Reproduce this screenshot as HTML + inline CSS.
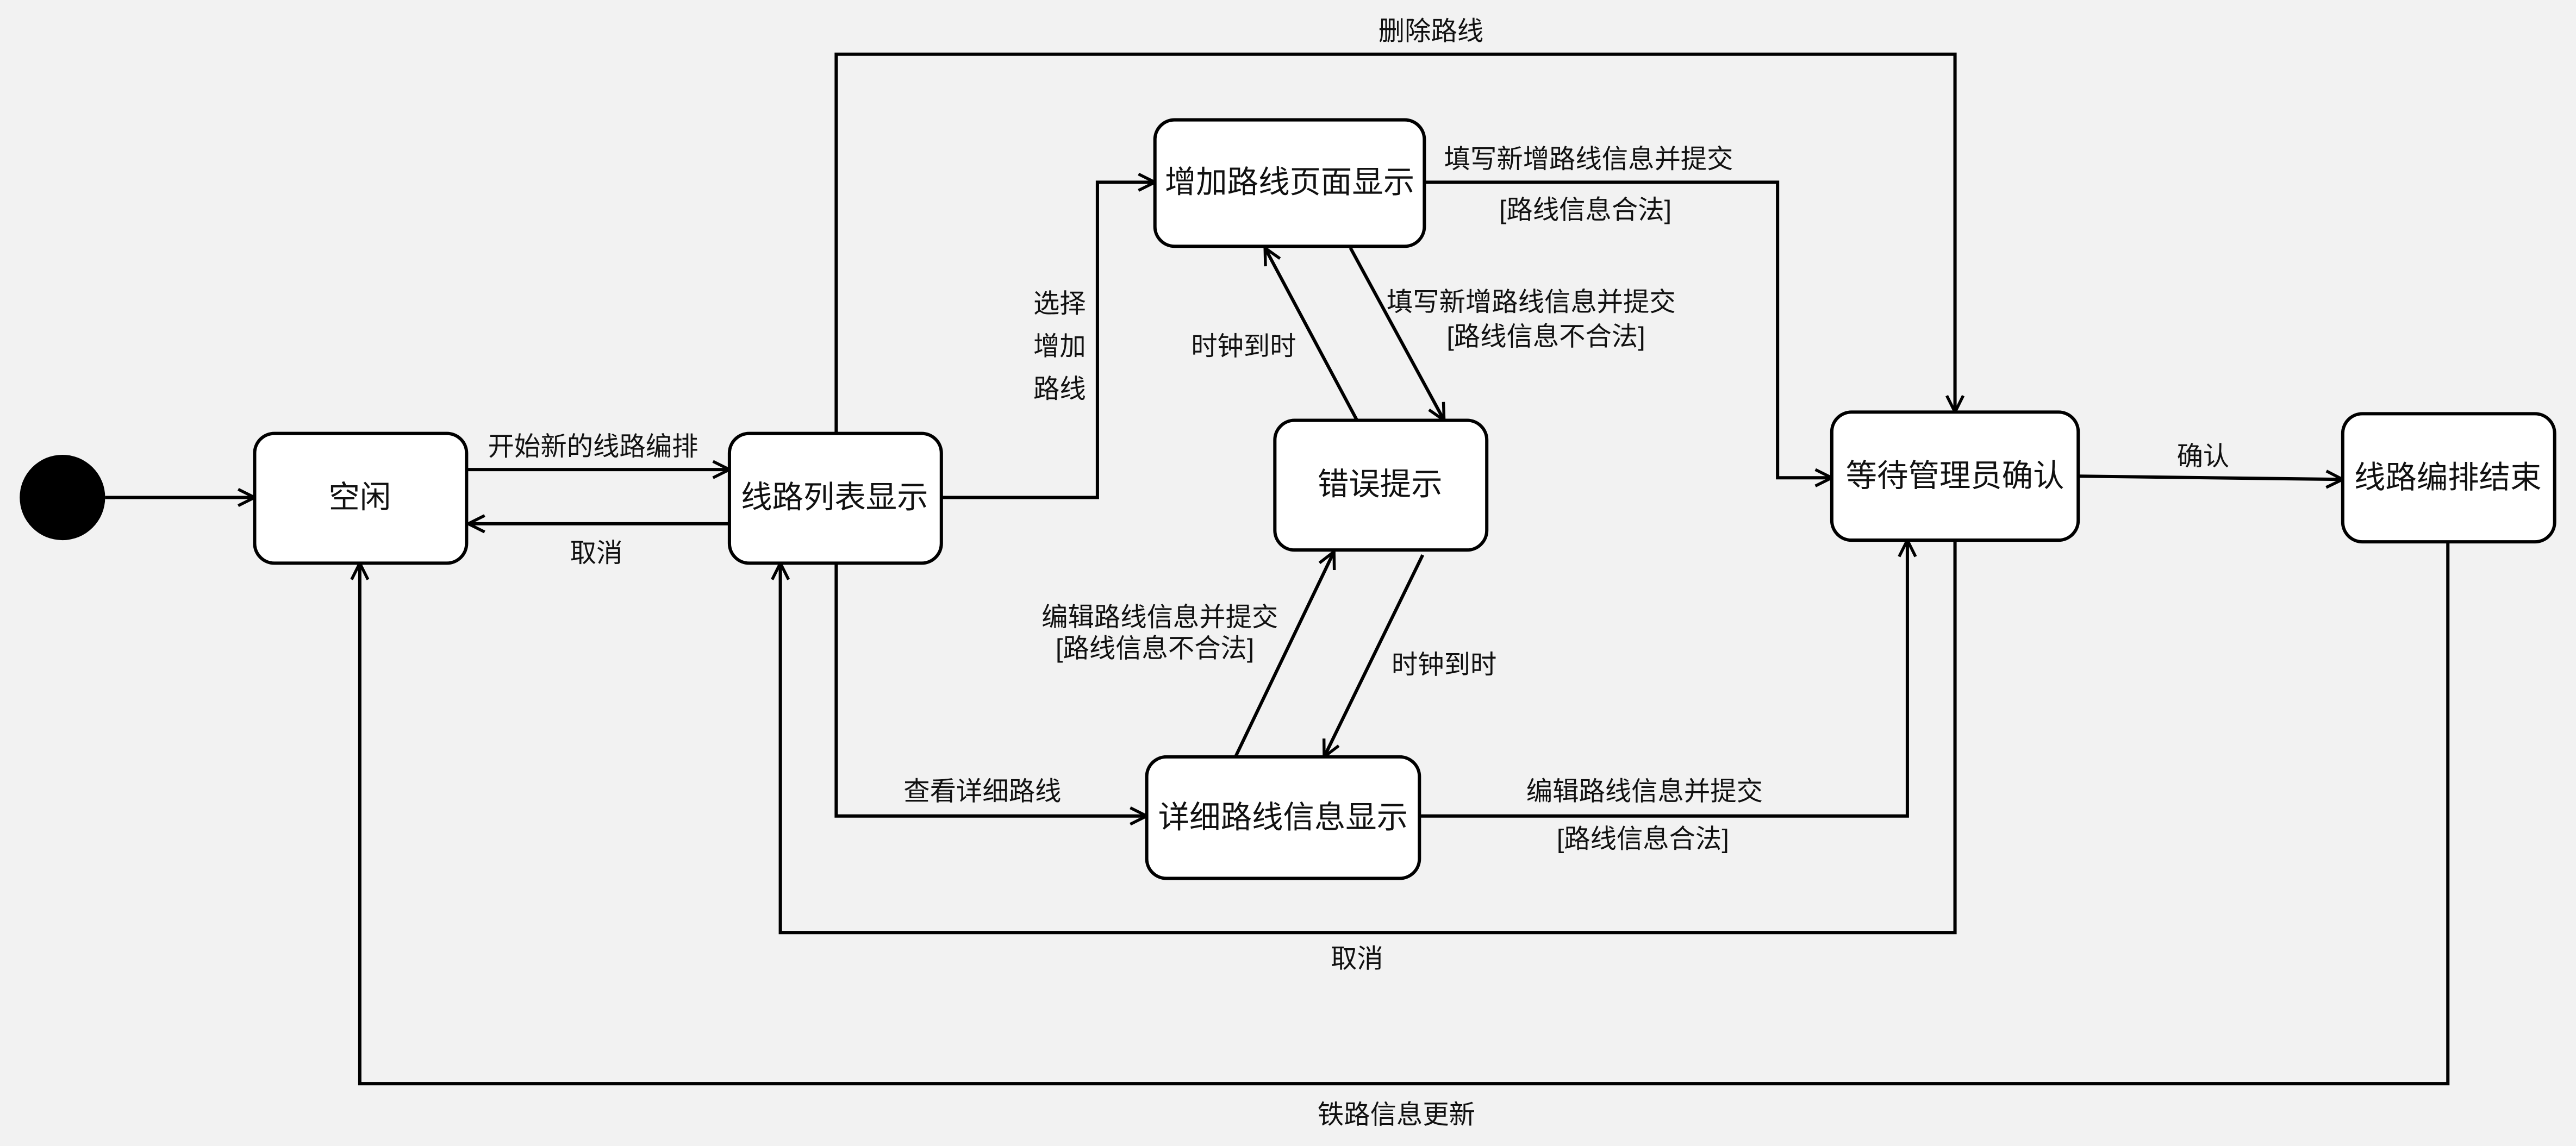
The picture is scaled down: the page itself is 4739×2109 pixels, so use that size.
<!DOCTYPE html>
<html><head><meta charset="utf-8"><style>
html,body{margin:0;padding:0;background:#f2f2f2;}
svg{display:block;}
text{font-family:"Liberation Sans","Noto Sans CJK SC",sans-serif;fill:#111;}
</style></head><body>
<svg width="4739" height="2109" viewBox="0 0 1568 698" preserveAspectRatio="none" xmlns="http://www.w3.org/2000/svg">
<defs>
<marker id="a" viewBox="0 0 12 12" refX="11" refY="6" markerWidth="12" markerHeight="12" markerUnits="userSpaceOnUse" orient="auto">
<path d="M1,1 L11,6 L1,11" fill="none" stroke="#000" stroke-width="1.8"/>
</marker>
</defs>
<rect width="1568" height="698" fill="#f2f2f2"/>
<g fill="none" stroke="#000" stroke-width="2">
<line x1="64" y1="303" x2="155" y2="303" marker-end="url(#a)"/>
<line x1="284" y1="286" x2="444" y2="286" marker-end="url(#a)"/>
<line x1="444" y1="319" x2="285" y2="319" marker-end="url(#a)"/>
<polyline points="509,264 509,33 1190,33 1190,251" marker-end="url(#a)"/>
<polyline points="573,303 668,303 668,111 703,111" marker-end="url(#a)"/>
<polyline points="867,111 1082,111 1082,291 1115,291" marker-end="url(#a)"/>
<line x1="822" y1="151" x2="879" y2="256" marker-end="url(#a)"/>
<line x1="826" y1="256" x2="770" y2="151" marker-end="url(#a)"/>
<line x1="752" y1="461" x2="812" y2="336" marker-end="url(#a)"/>
<line x1="866" y1="338" x2="806" y2="461" marker-end="url(#a)"/>
<polyline points="509,343 509,497 698,497" marker-end="url(#a)"/>
<polyline points="864,497 1161,497 1161,329" marker-end="url(#a)"/>
<polyline points="1190,329 1190,568 475,568 475,343" marker-end="url(#a)"/>
<line x1="1265" y1="290" x2="1426" y2="292" marker-end="url(#a)"/>
<polyline points="1490,330 1490,660 219,660 219,343" marker-end="url(#a)"/>
</g>
<circle cx="38" cy="303" r="26" fill="#000"/>
<g fill="#fff" stroke="#000" stroke-width="2">
<rect x="155" y="264" width="129" height="79" rx="12"/>
<rect x="444" y="264" width="129" height="79" rx="12"/>
<rect x="703" y="73" width="164" height="77" rx="12"/>
<rect x="776" y="256" width="129" height="79" rx="12"/>
<rect x="698" y="461" width="166" height="74" rx="12"/>
<rect x="1115" y="251" width="150" height="78" rx="12"/>
<rect x="1426" y="252" width="129" height="78" rx="12"/>
</g>
<g font-size="19" text-anchor="middle" dominant-baseline="central">
<text x="219" y="303">空闲</text>
<text x="508" y="303">线路列表显示</text>
<text x="785" y="111">增加路线页面显示</text>
<text x="840" y="295">错误提示</text>
<text x="781" y="498">详细路线信息显示</text>
<text x="1190" y="290">等待管理员确认</text>
<text x="1490" y="291">线路编排结束</text>
</g>
<g font-size="16" text-anchor="middle" dominant-baseline="central">
<text x="361" y="272">开始新的线路编排</text>
<text x="363" y="337">取消</text>
<text x="871" y="19">删除路线</text>
<text x="645" y="185">选择</text>
<text x="645" y="211">增加</text>
<text x="645" y="237">路线</text>
<text x="967" y="97">填写新增路线信息并提交</text>
<text x="965" y="128">[路线信息合法]</text>
<text x="932" y="184">填写新增路线信息并提交</text>
<text x="941" y="205">[路线信息不合法]</text>
<text x="757" y="211">时钟到时</text>
<text x="706" y="376">编辑路线信息并提交</text>
<text x="703" y="395">[路线信息不合法]</text>
<text x="879" y="405">时钟到时</text>
<text x="598" y="482">查看详细路线</text>
<text x="1001" y="482">编辑路线信息并提交</text>
<text x="1000" y="511">[路线信息合法]</text>
<text x="826" y="584">取消</text>
<text x="1341" y="278">确认</text>
<text x="850" y="679">铁路信息更新</text>
</g>
</svg>
</body></html>
